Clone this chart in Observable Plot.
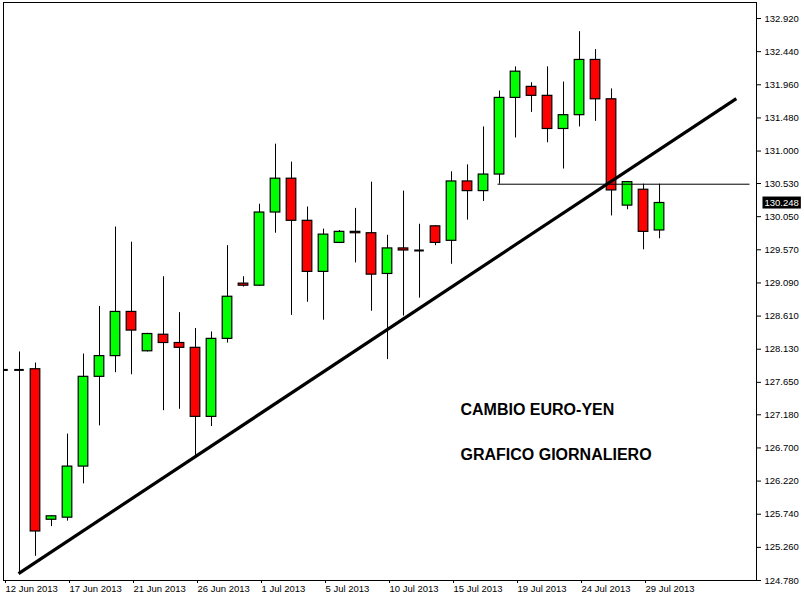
<!DOCTYPE html>
<html>
<head>
<meta charset="utf-8">
<script src="https://cdn.jsdelivr.net/npm/d3@7"></script>
<script src="https://cdn.jsdelivr.net/npm/@observablehq/plot@0.6"></script>
<style>
  html, body { margin: 0; padding: 0; background: #ffffff; }
  #chart svg { display: block; }
</style>
</head>
<body>
<div id="chart"></div>
<script>
// ---- Data (EUR/JPY daily candles) ----
const dates = [
  "2013-06-12","2013-06-13","2013-06-14","2013-06-16","2013-06-17","2013-06-18","2013-06-19","2013-06-20","2013-06-21",
  "2013-06-23","2013-06-24","2013-06-25","2013-06-26","2013-06-27","2013-06-28","2013-06-30",
  "2013-07-01","2013-07-02","2013-07-03","2013-07-04","2013-07-05","2013-07-07","2013-07-08","2013-07-09","2013-07-10",
  "2013-07-11","2013-07-12","2013-07-14","2013-07-15","2013-07-16","2013-07-17","2013-07-18","2013-07-19",
  "2013-07-21","2013-07-22","2013-07-23","2013-07-24","2013-07-25","2013-07-26","2013-07-28","2013-07-29","2013-07-30"
];
const openPrices = [
  127.83,127.83,127.84,125.66,125.69,126.43,127.73,128.03,128.67,
  128.10,128.34,128.22,128.15,127.15,128.28,129.08,
  129.05,130.11,130.60,129.99,129.25,129.67,129.83,129.81,129.22,
  129.59,129.56,129.91,129.70,130.56,130.42,130.66,131.77,
  131.93,131.80,131.32,131.52,132.32,131.75,130.21,130.44,129.85
];
const highPrices = [
  129.33,128.09,127.93,125.72,126.90,128.06,128.75,129.90,129.68,
  128.36,129.18,128.66,128.43,128.38,129.63,129.18,
  130.23,131.10,130.84,130.19,129.87,129.85,130.17,130.55,129.78,
  130.42,129.94,129.92,130.70,130.80,131.35,131.87,132.22,
  131.99,132.22,132.00,132.73,132.47,131.90,130.56,130.52,130.52
];
const lowPrices = [
  126.97,124.87,125.13,125.56,125.64,126.18,127.02,127.79,127.76,
  128.09,127.24,127.26,126.58,127.01,128.22,129.03,
  129.04,129.81,128.62,128.81,128.55,129.66,129.38,128.68,127.98,
  128.61,128.87,129.63,129.36,130.00,130.27,130.52,131.19,
  131.56,131.12,130.74,131.35,131.43,130.06,130.15,129.57,129.73
];
const closePrices = [
  127.83,127.83,125.49,125.71,126.43,127.73,128.03,128.67,128.40,
  128.35,128.22,128.15,127.15,128.28,128.89,129.05,
  130.11,130.60,129.99,129.25,129.79,129.83,129.81,129.21,129.59,
  129.56,129.56,129.67,130.56,130.42,130.66,131.77,132.15,
  131.80,131.32,131.52,132.32,131.75,130.43,130.55,129.83,130.248
];
const priceTicks = [132.92,132.44,131.96,131.48,131.00,130.53,130.05,129.57,129.09,128.61,128.13,127.65,127.18,126.70,126.22,125.74,125.26,124.78];
const dateTickIndex = [0,4,8,12,16,20,24,28,32,36,40];
// Trend line (bar index, price) and horizontal support level
const trendIndex = [0.94, 45.8];
const trendPrice = [124.88, 131.76];
const levelIndex = [30.9, 46.6];
const levelPrice = [130.52, 130.52];
const annotations = ["CAMBIO EURO-YEN", "GRAFICO GIORNALIERO"];

// ---- Build tables ----
const candles = dates.map((d, i) => ({
  i, date: new Date(d + "T00:00:00Z"),
  open: openPrices[i], high: highPrices[i], low: lowPrices[i], close: closePrices[i]
}));
const trend = trendIndex.map((x, k) => ({x, p: trendPrice[k]}));
const level = levelIndex.map((x, k) => ({x, p: levelPrice[k]}));
const last = candles[candles.length - 1];
const fmtDate = d3.utcFormat("%-d %b %Y");
const fmtPrice = d3.format(".3f");
const half = 0.3;

const chart = Plot.plot({
  width: 804,
  height: 600,
  marginTop: 2,
  marginRight: 48,
  marginBottom: 20,
  marginLeft: 3,
  style: {fontFamily: "'Liberation Sans', Arial, sans-serif", fontSize: "9.5px", color: "#000", background: "#fff"},
  x: {domain: [0, 47.06], label: null},
  y: {domain: [124.78, 133.152], label: null},
  color: {type: "identity"},
  marks: [
    Plot.frame({stroke: "#000", strokeWidth: 1}),
    Plot.axisY({anchor: "right", ticks: priceTicks, tickFormat: fmtPrice, tickSize: 4, tickPadding: 4, label: null, fill: "#000"}),
    Plot.axisX({ticks: dateTickIndex, tickFormat: i => fmtDate(candles[i].date), tickSize: 3, tickPadding: 2, textAnchor: "start", dx: 2, label: null, fill: "#000"}),
    // wicks
    Plot.ruleX(candles, {x: "i", y1: "low", y2: "high", stroke: "#000", strokeWidth: 1, clip: true}),
    // bodies
    Plot.rect(candles.filter(d => d.open !== d.close), {
      x1: d => d.i - half, x2: d => d.i + half, y1: "open", y2: "close",
      fill: d => d.close > d.open ? "#00ff00" : "#ff0000",
      stroke: "#000", strokeWidth: 1.2, clip: true
    }),
    // doji bodies
    Plot.ruleY(candles.filter(d => d.open === d.close), {
      y: "close", x1: d => d.i - half, x2: d => d.i + half, stroke: "#000", strokeWidth: 2, clip: true
    }),
    // horizontal level
    Plot.line(level, {x: "x", y: "p", stroke: "#000", strokeWidth: 1}),
    // trend line
    Plot.line(trend, {x: "x", y: "p", stroke: "#000", strokeWidth: 3.2, strokeLinecap: "butt"}),
    // annotations
    ...annotations.map((t, k) => Plot.text([t], {
      text: d => d, frameAnchor: "top-left", textAnchor: "start", lineAnchor: "middle",
      dx: 457, dy: 407 + 45 * k, fontSize: 16, fontWeight: "bold", fill: "#000"
    })),
    // last price tag
    Plot.text([last], {
      y: "close", text: d => fmtPrice(d.close), frameAnchor: "right", textAnchor: "start",
      dx: 8, fill: "#fff", ariaDescription: "price-tag"
    })
  ]
});

document.getElementById("chart").appendChild(chart);

// black box behind the last-price label
d3.select(chart).selectAll("g[aria-description='price-tag'] text").each(function() {
  const b = this.getBBox();
  const t = this.getAttribute("transform");
  const r = d3.select(this.parentNode).insert("rect", "text")
    .attr("x", b.x - 2).attr("y", b.y - 0.5)
    .attr("width", b.width + 4).attr("height", b.height + 1)
    .attr("fill", "#000");
  if (t) r.attr("transform", t);
});
</script>
</body>
</html>
